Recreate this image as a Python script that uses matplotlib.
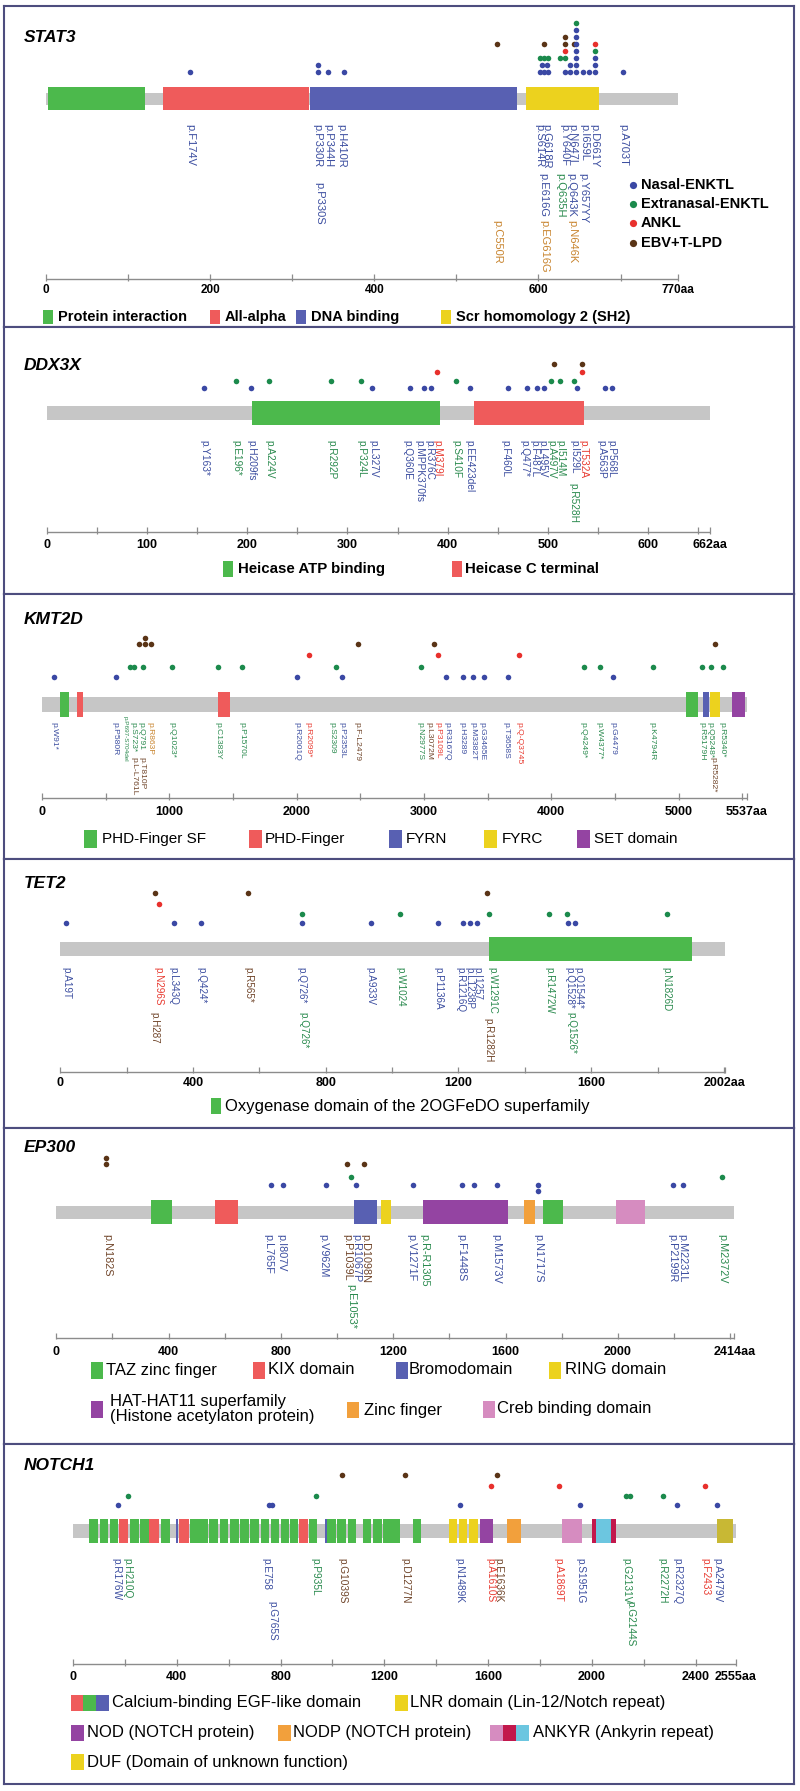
import matplotlib
matplotlib.use('Agg')
import matplotlib.pyplot as plt
from matplotlib.patches import Rectangle

plt.rcParams['font.family'] = ['Liberation Sans', 'DejaVu Sans']

W, H = 800, 1791

# ============================ DATA ============================
categories = ['Nasal-ENKTL', 'Extranasal-ENKTL', 'ANKL', 'EBV+T-LPD']
cat_codes = ['N', 'E', 'A', 'B']

# ---- STAT3 ----
stat3_len = 770
stat3_dom_name = ['Protein interaction', 'All-alpha', 'DNA binding', 'Scr homomology 2 (SH2)']
stat3_dom_start = [3, 142, 322, 585]
stat3_dom_end = [121, 320, 574, 674]
stat3_mut_pos = [176, 332, 344, 363, 602, 607, 612, 632, 639, 646, 654, 662, 669, 703,
                 332, 604, 610, 639, 646, 669,
                 602, 607, 612, 626, 632, 646, 669,
                 632, 646, 669,
                 550, 607, 632, 643, 646, 669,
                 632, 646,
                 646,
                 646]
stat3_mut_cat = (['N'] * 14 + ['N'] * 6 + ['E', 'E', 'E', 'E', 'E', 'N', 'N'] + ['A', 'N', 'E'] +
                 ['B', 'B', 'B', 'B', 'N', 'A'] + ['B', 'N'] + ['N'] + ['E'])
stat3_mut_lvl = [0] * 14 + [1] * 6 + [2] * 7 + [3] * 3 + [4] * 6 + [5] * 2 + [6] + [7]
stat3_lab_txt = ['p.F174V', 'p.P330R', 'p.P344H', 'p.H410R', 'p.P330S', 'p.S614R', 'p.G618R',
                 'p.Y640F', 'p.N647I', 'p.I659L', 'p.D661Y', 'p.A703T', 'p.E616G', 'p.Q635H',
                 'p.Q643K', 'p.Y657YY', 'p.C550R', 'p.EG616G', 'p.N646K']
stat3_lab_pos = [176, 331, 344, 360, 333, 601, 609, 632, 641, 656, 668, 703, 606, 626, 640, 654,
                 550, 607, 641]
stat3_lab_cat = ['N', 'N', 'N', 'N', 'N', 'N', 'N', 'N', 'N', 'N', 'N', 'N', 'N', 'E', 'N', 'N',
                 'O', 'O', 'O']
stat3_lab_tier = [0, 0, 0, 0, 2, 0, 0, 0, 0, 0, 0, 0, 1, 1, 1, 1, 3, 3, 3]

# ---- DDX3X ----
ddx3x_len = 662
ddx3x_dom_name = ['Heicase ATP binding', 'Heicase C terminal']
ddx3x_dom_start = [205, 426]
ddx3x_dom_end = [392, 536]
ddx3x_mut_pos = [157, 204, 325, 362, 376, 383, 422, 460, 479, 489, 496, 529, 557, 564,
                 189, 222, 284, 314, 408, 503, 512, 526,
                 389, 534,
                 506, 534]
ddx3x_mut_cat = ['N'] * 14 + ['E'] * 8 + ['A'] * 2 + ['B'] * 2
ddx3x_mut_lvl = [0] * 26
ddx3x_lab_txt = ['p.Y163*', 'p.E196*', 'p.H209fs', 'p.A224V', 'p.R292P', 'p.P324L', 'p.L327V',
                 'p.Q360E', 'p.MPPK370fs', 'p.R376C', 'p.M379I', 'p.S410F', 'p.EE423del',
                 'p.F460L', 'p.Q477*', 'p.F487L', 'p.L495V', 'p.A497V', 'p.I514M', 'p.I529L',
                 'p.T532A', 'p.A563P', 'p.P568L', 'p.R528H']
ddx3x_lab_pos = [157, 189, 204, 222, 284, 314, 326, 360, 372, 382, 390, 409, 422, 458, 477, 487,
                 495, 504, 513, 527, 536, 554, 564, 526]
ddx3x_lab_cat = ['N', 'E', 'N', 'E', 'E', 'E', 'N', 'N', 'N', 'N', 'A', 'E', 'N', 'N', 'N', 'N',
                 'N', 'E', 'E', 'N', 'A', 'N', 'N', 'E']
ddx3x_lab_tier = [0] * 23 + [1]

# ---- KMT2D ----
kmt2d_len = 5537
kmt2d_dom_name = ['PHD-Finger SF', 'PHD-Finger', 'PHD-Finger', 'PHD-Finger SF', 'FYRN', 'FYRC',
                  'SET domain']
kmt2d_dom_start = [140, 275, 1384, 5060, 5190, 5247, 5419]
kmt2d_dom_end = [212, 320, 1477, 5150, 5238, 5322, 5523]
kmt2d_mut_pos = [92, 581, 2002, 2359, 3170, 3303, 3387, 3472, 3662, 4483,
                 694, 726, 793, 1023, 1384, 1569, 2307, 2977, 4254, 4383, 4800, 5185, 5254, 5347,
                 2098, 3110, 3745,
                 762, 810, 858, 2480, 3078, 5282, 810]
kmt2d_mut_cat = ['N'] * 10 + ['E'] * 14 + ['A'] * 3 + ['B'] * 7
kmt2d_mut_lvl = [0] * 33 + [1]
kmt2d_lab_txt = ['p.W91*', 'p.P580R', 'p.P697-S704del', 'p.S723*', 'p.Q791', 'p.R863P',
                 'p.L-L761L', 'p.T810P', 'p.Q1023*', 'p.C1383Y', 'p.P1570L', 'p.R2001Q',
                 'p.R2099*', 'p.S2309', 'p.P2353L', 'p.F-L2479', 'p.N2977S', 'p.L3072M',
                 'p.P3109L', 'p.R3167Q', 'p.H3289', 'p.M3382T', 'p.G3465E', 'p.T3658S',
                 'p.Q-Q3745', 'p.Q4249*', 'p.W4377*', 'p.G4479', 'p.K4794R', 'p.R5179H',
                 'p.Q5248*', 'p.R5282*', 'p.R5340*']
kmt2d_lab_pos = [92, 573, 652, 717, 775, 848, 722, 782, 1019, 1385, 1569, 2001, 2092, 2280,
                 2354, 2472, 2969, 3035, 3113, 3179, 3297, 3388, 3454, 3645, 3749, 4252, 4370,
                 4480, 4789, 5182, 5247, 5268, 5339]
kmt2d_lab_cat = ['N', 'N', 'E', 'E', 'E', 'O', 'B', 'B', 'E', 'E', 'E', 'N', 'A', 'E', 'N', 'B',
                 'E', 'B', 'A', 'N', 'N', 'N', 'N', 'N', 'A', 'E', 'E', 'N', 'E', 'E', 'E', 'B',
                 'E']
kmt2d_lab_tier = [0, 0, 2, 0, 0, 0, 1, 1, 0, 0, 0, 0, 0, 0, 0, 0, 0, 0, 0, 0, 0, 0, 0, 0, 0, 0,
                  0, 0, 0, 0, 0, 1, 0]

# ---- TET2 ----
tet2_len = 2002
tet2_dom_name = ['Oxygenase domain of the 2OGFeDO superfamily']
tet2_dom_start = [1293]
tet2_dom_end = [1905]
tet2_mut_pos = [18, 342, 424, 727, 935, 1139, 1215, 1235, 1255, 1531, 1551,
                727, 1024, 1292, 1474, 1528, 1828,
                296,
                286, 565, 1285]
tet2_mut_cat = ['N'] * 11 + ['E'] * 6 + ['A'] + ['B'] * 3
tet2_mut_lvl = [0] * 21
tet2_lab_txt = ['p.A19T', 'p.N296S', 'p.H287', 'p.L343Q', 'p.Q424*', 'p.R565*', 'p.Q726*',
                'p.Q726*', 'p.A933V', 'p.W1024', 'p.P1136A', 'p.R1216Q', 'p.L1238P', 'p.I1257',
                'p.W1291C', 'p.R1282H', 'p.R1472W', 'p.Q1528*', 'p.Q1544*', 'p.Q1526*',
                'p.N1826D']
tet2_lab_pos = [18, 296, 285, 342, 424, 568, 727, 732, 935, 1024, 1138, 1206, 1232, 1258, 1302,
                1289, 1474, 1533, 1560, 1540, 1828]
tet2_lab_cat = ['N', 'A', 'B', 'N', 'N', 'B', 'N', 'E', 'N', 'E', 'N', 'N', 'N', 'N', 'E', 'B',
                'E', 'N', 'N', 'E', 'E']
tet2_lab_tier = [0, 0, 1, 0, 0, 0, 0, 1, 0, 0, 0, 0, 0, 0, 0, 2, 0, 0, 0, 1, 0]

# ---- EP300 ----
ep300_len = 2414
ep300_dom_name = ['TAZ zinc finger', 'KIX domain', 'Bromodomain', 'RING domain',
                  'HAT-HAT11 superfamily', 'Zinc finger', 'TAZ zinc finger', 'Creb binding domain']
ep300_dom_start = [336, 564, 1059, 1155, 1306, 1665, 1734, 1992]
ep300_dom_end = [413, 646, 1142, 1193, 1610, 1705, 1805, 2096]
ep300_mut_pos = [764, 806, 959, 1068, 1270, 1446, 1486, 1570, 1716, 1716, 2197, 2232,
                 1050, 2370,
                 178, 178, 1037, 1097]
ep300_mut_cat = ['N'] * 12 + ['E'] * 2 + ['B'] * 4
ep300_mut_lvl = [0, 0, 0, 0, 0, 0, 0, 0, 0, -1, 0, 0, 0, 0, 0, 1, 0, 0]
ep300_lab_txt = ['p.N182S', 'p.L765F', 'p.I807V', 'p.V962M', 'p.P1039L', 'p.R1067P',
                 'p.D1098N', 'p.E1053*', 'p.V1271F', 'p.R-R1305', 'p.F1448S', 'p.M1573V',
                 'p.N1717S', 'p.P2199R', 'p.M2231L', 'p.M2372V']
ep300_lab_pos = [182, 755, 800, 951, 1035, 1068, 1100, 1052, 1264, 1310, 1443, 1565, 1715, 2192,
                 2229, 2370]
ep300_lab_cat = ['B', 'N', 'N', 'N', 'B', 'N', 'B', 'E', 'N', 'E', 'N', 'N', 'N', 'N', 'N', 'E']
ep300_lab_tier = [0, 0, 0, 0, 0, 0, 0, 1, 0, 0, 0, 0, 0, 0, 0, 0]

# ---- NOTCH1 ----
notch1_len = 2555
notch1_dom_name = (['EGF', 'EGF', 'EGF', 'EGF-r', 'EGF', 'EGF', 'EGF-r', 'EGF', 'EGF-b', 'EGF-r'] +
                   ['EGF'] * 11 + ['EGF-r', 'EGF', 'EGF-b'] + ['EGF'] * 8 +
                   ['LNR', 'LNR', 'LNR', 'NOD', 'NODP', 'ANK-p', 'ANK-c', 'ANK-cy', 'ANK-c', 'DUF'])
notch1_dom_start = [63, 103, 142, 178, 221, 260, 294, 339, 398, 408, 451, 487, 526, 565, 605, 644,
                    684, 723, 762, 802, 836, 871, 908, 971, 979, 1018, 1058, 1117, 1156, 1196,
                    1230, 1310, 1448, 1487, 1526, 1570, 1672, 1884, 1999, 2015, 2072, 2482]
notch1_dom_end = [96, 136, 175, 212, 254, 293, 331, 372, 404, 446, 484, 520, 559, 598, 638, 677,
                  717, 756, 795, 834, 868, 905, 941, 977, 1012, 1051, 1091, 1150, 1189, 1229,
                  1262, 1343, 1481, 1520, 1560, 1619, 1727, 1963, 2015, 2072, 2092, 2545]
notch1_mut_pos = [172, 756, 768, 1491, 1954, 2327, 2482,
                  211, 936, 2131, 2147, 2273,
                  1609, 1871, 2436,
                  1038, 1280, 1635]
notch1_mut_cat = ['N'] * 7 + ['E'] * 5 + ['A'] * 3 + ['B'] * 3
notch1_mut_lvl = [0] * 18
notch1_lab_txt = ['p.R176W', 'p.H210Q', 'p.E758', 'p.G765S', 'p.P935L', 'p.G1039S', 'p.D1277N',
                  'p.N1489K', 'p.A1610S', 'p.E1636K', 'p.A1869T', 'p.S1951G', 'p.G2131V',
                  'p.G2144S', 'p.R2272H', 'p.R2327Q', 'p.F2433', 'p.A2479V']
notch1_lab_pos = [168, 211, 747, 768, 934, 1038, 1280, 1491, 1609, 1639, 1871, 1954, 2131, 2147,
                  2273, 2328, 2436, 2482]
notch1_lab_cat = ['N', 'E', 'N', 'N', 'E', 'B', 'B', 'N', 'A', 'B', 'A', 'N', 'E', 'E', 'E', 'N',
                  'A', 'N']
notch1_lab_tier = [0, 0, 0, 1, 0, 0, 0, 0, 0, 0, 0, 0, 0, 1, 0, 0, 0, 0]

# ============================ STYLE ============================
GRAY = '#c6c6c6'
BORDER = '#4d4d7e'
AXC = '#8c8c8c'
DOT_COL = {'N': '#3a48a4', 'E': '#1b8a4c', 'A': '#e8302c', 'B': '#5a3416'}
LAB_COL = {'N': '#3c4ea0', 'E': '#2a8a4e', 'A': '#e83a30', 'B': '#70452a', 'O': '#c8842e'}
GREEN, RED, DBLUE, YELLOW = '#4cb94c', '#ef5b5b', '#5860b2', '#ecd21e'
PURPLE, ORANGE, PINK = '#9444a2', '#f2a03c', '#d68cc0'
CRIMSON, CYAN, OLIVE = '#c2184c', '#6cc6e0', '#c8b834'
DOM_COL = {
    'Protein interaction': GREEN, 'All-alpha': RED, 'DNA binding': DBLUE,
    'Scr homomology 2 (SH2)': YELLOW,
    'Heicase ATP binding': GREEN, 'Heicase C terminal': RED,
    'PHD-Finger SF': GREEN, 'PHD-Finger': RED, 'FYRN': DBLUE, 'FYRC': YELLOW, 'SET domain': PURPLE,
    'Oxygenase domain of the 2OGFeDO superfamily': GREEN,
    'TAZ zinc finger': GREEN, 'KIX domain': RED, 'Bromodomain': DBLUE, 'RING domain': YELLOW,
    'HAT-HAT11 superfamily': PURPLE, 'Zinc finger': ORANGE, 'Creb binding domain': PINK,
    'EGF': GREEN, 'EGF-r': RED, 'EGF-b': DBLUE, 'LNR': YELLOW, 'NOD': PURPLE, 'NODP': ORANGE,
    'ANK-p': PINK, 'ANK-c': CRIMSON, 'ANK-cy': CYAN, 'DUF': OLIVE,
}

BX0, BX1 = 4, 794

fig = plt.figure(figsize=(W / 100, H / 100), dpi=100)
fig.patch.set_facecolor('white')


def draw_panel(p):
    top, bot = p['box']
    L = p['len']
    px0, pxL = p['ruler']
    s = (pxL - px0) / L
    ax = fig.add_axes([BX0 / W, 1 - bot / H, (BX1 - BX0) / W, (bot - top) / H])
    ax.set_xlim((BX0 - px0) / s, (BX1 - px0) / s)
    ax.set_ylim(bot, top)
    ax.set_xticks([])
    ax.set_yticks([])
    for sp in ax.spines.values():
        sp.set_color(BORDER)
        sp.set_linewidth(1.5)
    # protein backbone
    b0, b1 = p['bar_y']
    ax.add_patch(Rectangle((0, b0), L, b1 - b0, facecolor=GRAY, lw=0, zorder=1))
    d0, d1 = p['dom_y']
    for st, en, nm in zip(p['dstart'], p['dend'], p['dname']):
        ax.add_patch(Rectangle((st, d0), en - st, d1 - d0, facecolor=DOM_COL[nm], lw=0, zorder=2))
    # mutation dots
    for x, c, lv in zip(p['mpos'], p['mcat'], p['mlvl']):
        y = p['cat_y'][c] - lv * p['stack']
        ax.plot([x], [y], 'o', ms=p.get('ms', 4.0), color=DOT_COL[c], mec='none', zorder=3)
    # labels
    for x, t, c, tr in zip(p['lpos'], p['ltxt'], p['lcat'], p['ltier']):
        fs = p.get('tier_fs', {}).get(tr, p['lfs'])
        ax.text(x, p['tiers'][tr], t, rotation=270, ha='center', va='top', fontsize=fs,
                color=LAB_COL[c])
    # ruler
    ya = p['axis_y']
    ax.plot([0, L], [ya, ya], color=AXC, lw=1.0, solid_capstyle='butt')
    ticks = list(range(0, L + 1, p['tstep']))
    if ticks[-1] != L:
        ticks.append(L)
    ax.vlines(ticks, ya - 5, ya + 1.5, color=AXC, lw=0.9)
    for t in range(0, L, p['lstep']):
        if L - t < p['lstep'] * 0.3 and t != 0:
            continue
        ax.text(t, p['tick_y'], str(t), ha='center', va='center', fontsize=p['tfs'],
                fontweight='bold')
    ax.text(L, p['tick_y'], f'{L}aa', ha='center', va='center', fontsize=p['tfs'],
            fontweight='bold')
    return ax


panels = [
    dict(name='STAT3', len=stat3_len, box=(6, 327), ruler=(46, 678), bar_y=(93, 105),
         dom_y=(87, 110), dname=stat3_dom_name, dstart=stat3_dom_start, dend=stat3_dom_end,
         mpos=stat3_mut_pos, mcat=stat3_mut_cat, mlvl=stat3_mut_lvl,
         cat_y={'N': 72.3, 'E': 72.3, 'A': 72.3, 'B': 72.3}, stack=7.0,
         lpos=stat3_lab_pos, ltxt=stat3_lab_txt, lcat=stat3_lab_cat, ltier=stat3_lab_tier,
         tiers={0: 124, 1: 173, 2: 182, 3: 220}, lfs=8.0,
         axis_y=279, tick_y=290, tstep=100, lstep=200, tfs=8.5, title_y=37),
    dict(name='DDX3X', len=ddx3x_len, box=(327, 594), ruler=(47, 710), bar_y=(406, 420),
         dom_y=(401, 425), dname=ddx3x_dom_name, dstart=ddx3x_dom_start, dend=ddx3x_dom_end,
         mpos=ddx3x_mut_pos, mcat=ddx3x_mut_cat, mlvl=ddx3x_mut_lvl,
         cat_y={'N': 388.3, 'E': 381, 'A': 372.3, 'B': 364.3}, stack=7.0,
         lpos=ddx3x_lab_pos, ltxt=ddx3x_lab_txt, lcat=ddx3x_lab_cat, ltier=ddx3x_lab_tier,
         tiers={0: 440, 1: 483}, lfs=7.3,
         axis_y=532, tick_y=545, tstep=50, lstep=100, tfs=9, title_y=365),
    dict(name='KMT2D', len=kmt2d_len, box=(594, 859), ruler=(42, 747), bar_y=(697, 712),
         dom_y=(692, 717), dname=kmt2d_dom_name, dstart=kmt2d_dom_start, dend=kmt2d_dom_end,
         mpos=kmt2d_mut_pos, mcat=kmt2d_mut_cat, mlvl=kmt2d_mut_lvl,
         cat_y={'N': 676.7, 'E': 666.7, 'A': 655, 'B': 644}, stack=5.7,
         lpos=kmt2d_lab_pos, ltxt=kmt2d_lab_txt, lcat=kmt2d_lab_cat, ltier=kmt2d_lab_tier,
         tiers={0: 722, 1: 757, 2: 716.5}, tier_fs={2: 4.6}, lfs=6.1,
         axis_y=798, tick_y=812, tstep=500, lstep=1000, tfs=9, title_y=620),
    dict(name='TET2', len=tet2_len, box=(859, 1128), ruler=(60.3, 724.6), bar_y=(942, 956),
         dom_y=(937, 961), dname=tet2_dom_name, dstart=tet2_dom_start, dend=tet2_dom_end,
         mpos=tet2_mut_pos, mcat=tet2_mut_cat, mlvl=tet2_mut_lvl,
         cat_y={'N': 922.7, 'E': 914, 'A': 904, 'B': 893.3}, stack=7.0,
         lpos=tet2_lab_pos, ltxt=tet2_lab_txt, lcat=tet2_lab_cat, ltier=tet2_lab_tier,
         tiers={0: 967, 1: 1012, 2: 1018}, lfs=7.1,
         axis_y=1071.7, tick_y=1083, tstep=200, lstep=400, tfs=9, title_y=883),
    dict(name='EP300', len=ep300_len, box=(1128, 1444), ruler=(56.2, 734.3), bar_y=(1206, 1219),
         dom_y=(1200, 1224), dname=ep300_dom_name, dstart=ep300_dom_start, dend=ep300_dom_end,
         mpos=ep300_mut_pos, mcat=ep300_mut_cat, mlvl=ep300_mut_lvl,
         cat_y={'N': 1185.5, 'E': 1176.7, 'A': 1170, 'B': 1164.3}, stack=6.0,
         lpos=ep300_lab_pos, ltxt=ep300_lab_txt, lcat=ep300_lab_cat, ltier=ep300_lab_tier,
         tiers={0: 1234, 1: 1284}, lfs=7.8,
         axis_y=1338, tick_y=1352, tstep=200, lstep=400, tfs=9, title_y=1148),
    dict(name='NOTCH1', len=notch1_len, box=(1444, 1784), ruler=(73, 736), bar_y=(1524, 1538),
         dom_y=(1519, 1543), dname=notch1_dom_name, dstart=notch1_dom_start,
         dend=notch1_dom_end, mpos=notch1_mut_pos, mcat=notch1_mut_cat, mlvl=notch1_mut_lvl,
         cat_y={'N': 1505, 'E': 1495.7, 'A': 1485.7, 'B': 1475}, stack=7.0,
         lpos=notch1_lab_pos, ltxt=notch1_lab_txt, lcat=notch1_lab_cat, ltier=notch1_lab_tier,
         tiers={0: 1558, 1: 1601}, lfs=7.3,
         axis_y=1664, tick_y=1677, tstep=200, lstep=400, tfs=9, title_y=1465),
]

for p in panels:
    draw_panel(p)

# overlay in figure pixels for titles and legends
ov = fig.add_axes([0, 0, 1, 1], zorder=10)
ov.set_xlim(0, W)
ov.set_ylim(H, 0)
ov.axis('off')

for p in panels:
    ov.text(24, p['title_y'], p['name'], fontsize=12.5, fontweight='bold', fontstyle='italic',
            ha='left', va='center')

# STAT3 category legend
for i, (nm, c) in enumerate(zip(categories, cat_codes)):
    y = [185, 204, 223, 243][i]
    ov.plot([633], [y], 'o', ms=5.2, color=DOT_COL[c], mec='none')
    ov.text(641, y, nm, fontsize=10.5, fontweight='bold', ha='left', va='center')


def leg_item(x, y, w, h, colors, tx, text, fs, bold=False, **kw):
    ww = w / len(colors)
    for k, col in enumerate(colors):
        ov.add_patch(Rectangle((x + k * ww, y - h / 2), ww, h, facecolor=col, lw=0))
    ov.text(tx, y, text, fontsize=fs, fontweight='bold' if bold else 'normal', ha='left',
            va='center', **kw)


# STAT3 domain legend
for x, nm, tx in zip([43, 210, 296, 441], stat3_dom_name, [58, 225, 311, 456]):
    leg_item(x, 317, 10, 14, [DOM_COL[nm]], tx, nm, 10.5, bold=True)
# DDX3X
for x, nm, tx in zip([223, 452], ddx3x_dom_name, [238, 465]):
    leg_item(x, 569, 10, 16, [DOM_COL[nm]], tx, nm, 10.8, bold=True)
# KMT2D
for x, nm, tx in zip([84, 249, 389, 484, 577],
                     ['PHD-Finger SF', 'PHD-Finger', 'FYRN', 'FYRC', 'SET domain'],
                     [102, 265, 406, 502, 594]):
    leg_item(x, 839, 13, 18, [DOM_COL[nm]], tx, nm, 11)
# TET2
leg_item(211, 1106, 10, 16, [DOM_COL[tet2_dom_name[0]]], 225, tet2_dom_name[0], 12)
# EP300
for x, nm, tx in zip([91, 253, 396, 549],
                     ['TAZ zinc finger', 'KIX domain', 'Bromodomain', 'RING domain'],
                     [106, 268, 409, 565]):
    leg_item(x, 1370, 12, 17, [DOM_COL[nm]], tx, nm, 12)
leg_item(91, 1409, 12, 17, [PURPLE], 110,
         'HAT-HAT11 superfamily\n(Histone acetylaton protein)', 12, linespacing=1.05)
leg_item(347, 1410, 12, 16, [ORANGE], 364, 'Zinc finger', 12)
leg_item(483, 1409, 12, 17, [PINK], 497, 'Creb binding domain', 12)
# NOTCH1
leg_item(70.5, 1703, 38.3, 16, [RED, GREEN, DBLUE], 112, 'Calcium-binding EGF-like domain', 12)
leg_item(395, 1703, 13, 16, [YELLOW], 410, 'LNR domain (Lin-12/Notch repeat)', 12)
leg_item(70.5, 1733, 13, 16, [PURPLE], 87, 'NOD (NOTCH protein)', 12)
leg_item(277.5, 1733, 13, 16, [ORANGE], 293, 'NODP (NOTCH protein)', 12)
leg_item(489.5, 1733, 39.5, 16, [PINK, CRIMSON, CYAN], 533, 'ANKYR (Ankyrin repeat)', 12)
leg_item(70.5, 1762, 13, 16, [YELLOW], 87, 'DUF (Domain of unknown function)', 12)

fig.savefig('out.png', dpi=100, facecolor='white')
